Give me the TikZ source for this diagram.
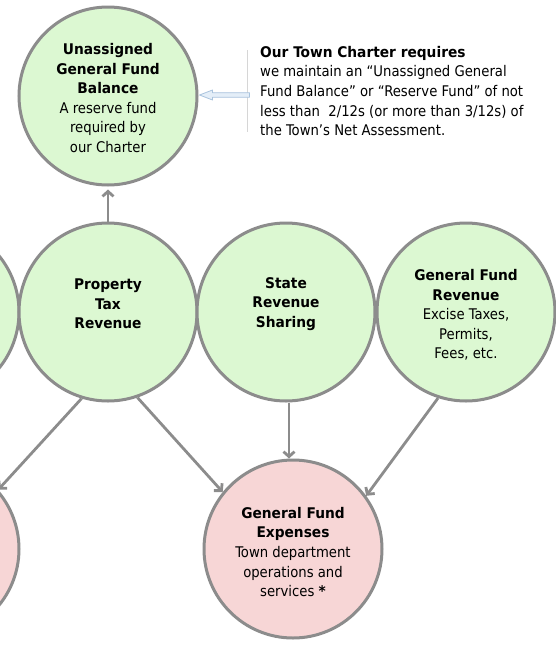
\documentclass[tikz,border=0pt]{standalone}
\usepackage{fontspec}
\setmainfont{DejaVu Sans Condensed}[BoldFeatures={FakeStretch=1.04}]
\usetikzlibrary{arrows.meta,calc}
\definecolor{fundgreen}{HTML}{DCF8D2}
\definecolor{fundpink}{HTML}{F7D6D6}
\definecolor{ringgray}{HTML}{8C8C8C}
\definecolor{notegray}{HTML}{D6D6D6}
\definecolor{hintblue}{HTML}{A9C3DD}
\definecolor{hintfill}{HTML}{E4EEF8}
\begin{document}
\begin{tikzpicture}[x=1pt,y=-1pt,
  fund/.style={circle, draw=ringgray, line width=3pt, minimum size=178pt, inner sep=0pt},
  income/.style={fund, fill=fundgreen},
  outlay/.style={fund, fill=fundpink},
  caption/.style={align=center, font=\fontsize{14.7}{19.6}\selectfont, inner sep=0pt},
  flow/.style={draw=ringgray, line width=2.8pt, -{Straight Barb[length=5pt,width=11pt]}},
]
\useasboundingbox (0,0) rectangle (556,646);

% revenue sources and the reserve fund
\node[income] (bal) at (108,96) {};
\node[caption] (balT) at (108,98) {\textbf{Unassigned}\\\textbf{General Fund}\\\textbf{Balance}\\A reserve fund\\required by\\our Charter};

\node[income] (lft) at (-70,312) {};
\node[income] (ptx) at (108,312) {};
\node[caption] (ptxT) at (108,304) {\textbf{Property}\\\textbf{Tax}\\\textbf{Revenue}};
\node[income] (st) at (286,312) {};
\node[caption] (stT) at (286,304) {\textbf{State}\\\textbf{Revenue}\\\textbf{Sharing}};
\node[income] (gfr) at (466,312) {};
\node[caption] (gfrT) at (466,315) {\textbf{General Fund}\\\textbf{Revenue}\\Excise Taxes,\\Permits,\\Fees, etc.};

% spending
\node[outlay] (lfo) at (-70,549) {};
\node[outlay] (gfe) at (293,549) {};
\node[caption] (gfeT) at (293,552) {\textbf{General Fund}\\\textbf{Expenses}\\Town department\\operations and\\services \textbf{*}};

% charter note
\node[anchor=north west, align=left, inner sep=0pt, font=\fontsize{14.7}{19.6}\selectfont] (note) at (260,46)
  {\textbf{Our Town Charter requires}\\we maintain an “Unassigned General\\Fund Balance” or “Reserve Fund” of not\\less than\ \ 2/12s (or more than 3/12s) of\\the Town’s Net Assessment.};
\draw[notegray, line width=1pt] ([xshift=-13pt,yshift=-4pt]note.north west) -- ([xshift=-13pt,yshift=4pt]note.south west);
\draw[hintblue, fill=hintfill, line width=0.8pt, line join=round]
  ($(bal.east)+(1,-1)$) -- ++(13,-5) -- ++(0,2.7) -- ++(37,0) -- ++(0,4.6) -- ++(-37,0) -- ++(0,2.7) -- cycle;

% flows
\draw[flow, shorten >=3pt] (ptx.north) -- (bal.south);
\draw[flow] (ptx.253) -- (lfo.41);
\draw[flow] (ptx.289) -- (gfe.141);
\draw[flow] ([xshift=3pt]st.south) -- ([xshift=3pt]st.south |- gfe.north);
\draw[flow] (gfr.252) -- (gfe.36);
\end{tikzpicture}
\end{document}
